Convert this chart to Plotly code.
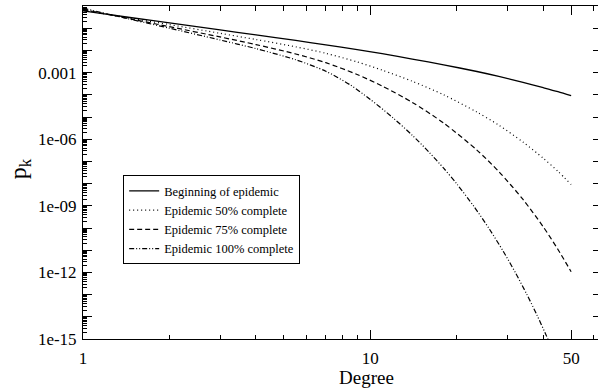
import plotly.graph_objects as go

# ---- data (degree k, probability p_k) ----
k_begin = [1, 1.5, 2, 3, 4, 5.5, 7, 9, 11, 14, 18, 23.5, 28, 34, 40, 45, 50]
p_begin = [0.603, 0.288, 0.174, 0.0832, 0.0501, 0.0282, 0.0178, 0.01096, 7.08e-3, 4.07e-3,
           2.24e-3, 1.12e-3, 6.76e-4, 3.63e-4, 2.09e-4, 1.38e-4, 9.12e-5]

k_50 = [1, 1.5, 2, 3, 4, 5.5, 7, 9, 11, 14, 18, 23.5, 28, 34, 40, 45, 50]
p_50 = [0.661, 0.269, 0.145, 0.0589, 0.0309, 0.0145, 7.41e-3, 3.02e-3, 1.29e-3, 4.07e-4,
        1.0e-4, 1.66e-5, 4.27e-6, 7.41e-7, 1.38e-7, 3.55e-8, 9.12e-9]

k_75 = [1, 1.5, 2, 3, 4, 5.5, 7, 9, 11, 14, 18, 23.5, 28, 34, 40, 45, 50]
p_75 = [0.708, 0.245, 0.117, 0.0403, 0.0183, 6.90e-3, 2.80e-3, 8.18e-4, 2.47e-4, 4.54e-5,
        5.33e-6, 3.23e-7, 3.49e-8, 1.93e-9, 1.12e-10, 1.08e-11, 1.07e-12]

k_100 = [1, 1.5, 2, 3, 4, 5.5, 7, 8.53, 10, 12, 14, 16, 18, 20, 23, 26, 29, 32, 35, 38, 41, 42]
p_100 = [0.794, 0.234, 0.100, 0.0295, 0.0120, 3.80e-3, 1.15e-3, 2.75e-4, 6.18e-5, 9.14e-6,
         1.50e-6, 2.64e-7, 4.94e-8, 9.66e-9, 8.91e-10, 8.75e-11, 9.02e-12, 9.66e-13,
         1.07e-13, 1.22e-14, 1.41e-15, 6.92e-16]

series_names = ["Beginning of epidemic", "Epidemic 50% complete",
                "Epidemic 75% complete", "Epidemic 100% complete"]

x_major_ticks = [1, 10, 50]
x_major_text = ["1", "10", "50"]
x_minor_ticks = [2, 3, 4, 5, 6, 7, 8, 9, 20, 30, 40, 60]
y_decades = [10.0 ** e for e in range(-15, 1)]
y_labels = {-15: "1e-15", -12: "1e-12", -9: "1e-09", -6: "1e-06", -3: "0.001"}
y_text = [y_labels.get(e, "") for e in range(-15, 1)]
y_minor = [m * 10.0 ** e for e in range(-15, 0) for m in range(2, 10)]

FONT = "Liberation Serif, Times New Roman, DejaVu Serif, serif"
XR = [0, 1.7925]
YR = [-15, 0]

fig = go.Figure()
styles = [
    dict(dash="solid", width=1.3),
    dict(dash="1px,3px", width=1.2),
    dict(dash="5px,3px", width=1.2),
    dict(dash="5px,2px,1px,2px,1px,2px", width=1.2),
]
for (kx, py), name, st in zip([(k_begin, p_begin), (k_50, p_50), (k_75, p_75), (k_100, p_100)],
                              series_names, styles):
    fig.add_trace(go.Scatter(x=kx, y=py, mode="lines", name=name,
                             line=dict(color="black", width=st["width"], dash=st["dash"],
                                       shape="spline", smoothing=0.8)))

# empty helper traces so the extra tick axes exist
for xa, ya in [("x2", "y"), ("x3", "y"), ("x4", "y"), ("x", "y2"), ("x", "y3")]:
    fig.add_trace(go.Scatter(x=[], y=[], xaxis=xa, yaxis=ya, showlegend=False,
                             hoverinfo="skip"))

tickfont = dict(family=FONT, size=17, color="black")
common = dict(showgrid=False, zeroline=False, tickcolor="black", tickwidth=1)

fig.update_layout(
    width=599, height=388,
    margin=dict(l=83, r=1, t=6, b=49),
    paper_bgcolor="white", plot_bgcolor="white",
    font=dict(family=FONT, color="black"),
    showlegend=True,
    legend=dict(x=0.078, y=0.492, xanchor="left", yanchor="top",
                bgcolor="white", bordercolor="black", borderwidth=1,
                font=dict(family=FONT, size=12.5, color="black"),
                itemwidth=30, tracegroupgap=0),
    xaxis=dict(type="log", range=XR, tickvals=x_major_ticks, ticktext=x_major_text,
               ticks="inside", ticklen=9, showline=True, linecolor="black", linewidth=1,
               tickfont=tickfont, ticklabelstandoff=4, **common),
    xaxis2=dict(type="log", range=XR, overlaying="x", anchor="y", side="bottom",
                tickvals=x_minor_ticks, ticks="inside", ticklen=4, showticklabels=False,
                showline=False, **common),
    xaxis3=dict(type="log", range=XR, overlaying="x", anchor="y", side="top",
                tickvals=x_major_ticks, ticks="inside", ticklen=9, showticklabels=False,
                showline=True, linecolor="black", linewidth=1, **common),
    xaxis4=dict(type="log", range=XR, overlaying="x", anchor="y", side="top",
                tickvals=x_minor_ticks, ticks="inside", ticklen=5, showticklabels=False,
                showline=False, **common),
    yaxis=dict(type="log", range=YR, tickvals=y_decades, ticktext=y_text,
               ticks="inside", ticklen=9, showline=True, linecolor="black", linewidth=1,
               tickfont=tickfont, ticklabelstandoff=2, **common),
    yaxis2=dict(type="log", range=YR, overlaying="y", anchor="x", side="left",
                tickvals=y_minor, ticks="inside", ticklen=4, showticklabels=False,
                showline=False, **common),
    yaxis3=dict(type="log", range=YR, overlaying="y", anchor="x", side="right",
                tickvals=y_decades, ticks="inside", ticklen=5, showticklabels=False,
                showline=False, **common),
    annotations=[
        dict(text="Degree", xref="paper", yref="paper", x=0.551, y=-0.117,
             xanchor="center", yanchor="middle", showarrow=False,
             font=dict(family=FONT, size=19, color="black")),
        dict(text="p<sub>k</sub>", xref="paper", yref="paper", x=-0.122, y=0.51,
             xanchor="center", yanchor="middle", showarrow=False, textangle=-90,
             font=dict(family=FONT, size=24, color="black")),
    ],
)

fig.write_html("out.html", config={"displayModeBar": False},
               post_script="document.body.style.margin='0';document.body.style.padding='0';")
